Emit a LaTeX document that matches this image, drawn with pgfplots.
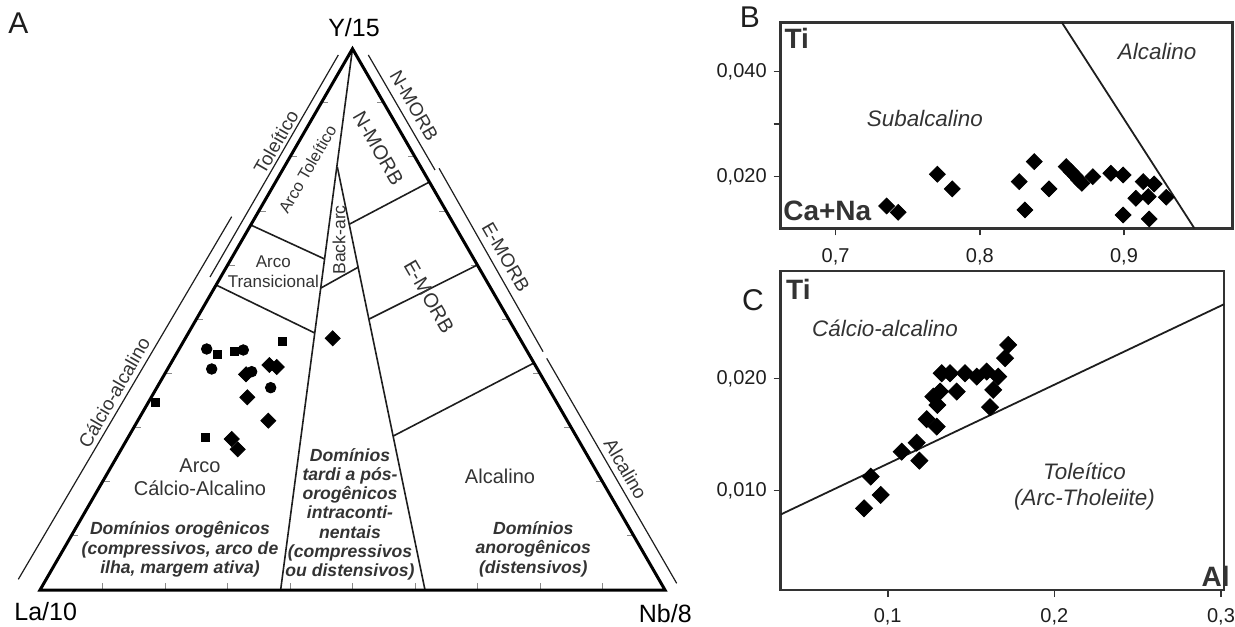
\documentclass[border=0pt]{standalone}
\usepackage{pgfplots}
\pgfplotsset{compat=1.18}
\usepackage{fontspec}
\setmainfont{Liberation Sans}
\definecolor{dk}{HTML}{1E1E1E}
\definecolor{tx}{HTML}{333333}
\definecolor{tk}{HTML}{8A8A8A}
\newcommand{\fs}[2]{\fontsize{#1}{#2}\selectfont}
\begin{document}
\begin{tikzpicture}
\useasboundingbox (0,0) rectangle (617.5pt,313pt);
% ---------------- Panel A : ternary La/10 - Y/15 - Nb/8 ----------------
\begin{axis}[at={(20pt,18pt)}, anchor=south west, scale only axis,
  width=312.5pt, height=270.63pt, xmin=0, xmax=1, ymin=0, ymax=0.8660,
  axis lines=none, clip=false]
% inner ticks
\addplot[tk, line width=0.5pt, unbounded coords=jump] coordinates {
(0.1,0) (0.1,0.0112) (0.1,nan) (0.2,0) (0.2,0.0112) (0.2,nan)
(0.3,0) (0.3,0.0112) (0.3,nan) (0.4,0) (0.4,0.0112) (0.4,nan)
(0.5,0) (0.5,0.0112) (0.5,nan) (0.6,0) (0.6,0.0112) (0.6,nan)
(0.7,0) (0.7,0.0112) (0.7,nan) (0.8,0) (0.8,0.0112) (0.8,nan)
(0.9,0) (0.9,0.0112) (0.9,nan)
(0.05,0.0866) (0.0612,0.0866) (0.05,nan) (0.10,0.1732) (0.1112,0.1732) (0.1,nan)
(0.15,0.2598) (0.1612,0.2598) (0.15,nan) (0.20,0.3464) (0.2112,0.3464) (0.2,nan)
(0.25,0.4330) (0.2612,0.4330) (0.25,nan) (0.30,0.5196) (0.3112,0.5196) (0.3,nan)
(0.35,0.6062) (0.3612,0.6062) (0.35,nan) (0.40,0.6928) (0.4112,0.6928) (0.4,nan)
(0.45,0.7794) (0.4612,0.7794) (0.45,nan)
(0.95,0.0866) (0.9388,0.0866) (0.95,nan) (0.90,0.1732) (0.8888,0.1732) (0.9,nan)
(0.85,0.2598) (0.8388,0.2598) (0.85,nan) (0.80,0.3464) (0.7888,0.3464) (0.8,nan)
(0.75,0.4330) (0.7388,0.4330) (0.75,nan) (0.70,0.5196) (0.6888,0.5196) (0.7,nan)
(0.65,0.6062) (0.6388,0.6062) (0.65,nan) (0.60,0.6928) (0.5888,0.6928) (0.6,nan)
(0.55,0.7794) (0.5388,0.7794)};
% field boundaries
\addplot[dk, line width=0.8pt] coordinates {(0.5,0.866) (0.385,0)};
\addplot[dk, line width=0.8pt] coordinates {(0.4757,0.677) (0.616,0)};
\addplot[dk, line width=0.8pt] coordinates {(0.4495,0.4832) (0.5097,0.5168)};
\addplot[dk, line width=0.8pt] coordinates {(0.3372,0.584) (0.4553,0.5296)};
\addplot[dk, line width=0.8pt] coordinates {(0.2818,0.488) (0.4396,0.4112)};
\addplot[dk, line width=0.8pt] coordinates {(0.4956,0.5856) (0.6231,0.6528)};
\addplot[dk, line width=0.8pt] coordinates {(0.5268,0.4336) (0.6998,0.52)};
\addplot[dk, line width=0.8pt] coordinates {(0.5653,0.2464) (0.7903,0.3632)};
% outer triangle
\addplot[black, line width=1.5pt] coordinates {(0,0) (1,0) (0.5,0.866) (0,0)} -- cycle;
% outer label lines
\addplot[dk, line width=0.6pt] coordinates {(0.4773,0.856) (0.272,0.5008)};
\addplot[dk, line width=0.6pt] coordinates {(0.3067,0.5973) (-0.0347,0.0171)};
\addplot[dk, line width=0.6pt] coordinates {(0.5253,0.856) (0.632,0.672)};
\addplot[dk, line width=0.6pt] coordinates {(0.6385,0.6747) (0.8049,0.3813)};
\addplot[dk, line width=0.6pt] coordinates {(0.8107,0.3707) (1.0187,0.0107)};
% samples
\addplot[only marks, mark=*, mark size=2.65pt, black] coordinates {
(0.2667,0.3856) (0.3253,0.3840) (0.2747,0.3536) (0.3387,0.3493) (0.3691,0.3237)};
\addplot[only marks, mark=square*, mark size=2pt, black] coordinates {
(0.2837,0.3771) (0.3104,0.3813) (0.3877,0.3984) (0.1851,0.3003) (0.2651,0.2437)};
\addplot[only marks, mark=square*, mark size=2.65pt, mark options={rotate=45}, black] coordinates {
(0.4683,0.4027) (0.3669,0.3600) (0.3787,0.3568) (0.3296,0.3451) (0.3317,0.3083)
(0.3653,0.2709) (0.3067,0.2416) (0.3163,0.2251)};
% vertex and panel labels
\node[font=\fs{12.5}{14}] at (axis cs:0.5024,0.9005) {Y/15};
\node[font=\fs{12.5}{14}] at (axis cs:0.0091,-0.0347) {La/10};
\node[font=\fs{12.5}{14}] at (axis cs:1.0005,-0.0373) {Nb/8};
\node[font=\fs{15}{18}, text=dk] at (axis cs:-0.0347,0.9067) {A};
% field labels
\node[font=\fs{8.2}{9.5}, text=tx, rotate=60] at (axis cs:0.4277,0.6731) {Arco Toleítico};
\node[font=\fs{10}{12}, text=tx, rotate=-60] at (axis cs:0.5413,0.7067) {N-MORB};
\node[font=\fs{8.8}{10}, text=tx, rotate=90] at (axis cs:0.4784,0.56) {Back-arc};
\node[font=\fs{8.5}{10}, text=tx, align=center] at (axis cs:0.3733,0.5093) {Arco\\Transicional};
\node[font=\fs{10}{12}, text=tx, rotate=-60] at (axis cs:0.6224,0.4696) {E-MORB};
\node[font=\fs{10}{11.3}, text=tx, align=center] at (axis cs:0.256,0.1808) {Arco\\Cálcio-Alcalino};
\node[font=\fs{10}{12}, text=tx] at (axis cs:0.736,0.1824) {Alcalino};
\node[font=\fs{8.8}{9.6}\bfseries\itshape, text=tx, align=center] at (axis cs:0.224,0.0651)
  {Domínios orogênicos\\(compressivos, arco de\\ilha, margem ativa)};
\node[font=\fs{8.8}{9.6}\bfseries\itshape, text=tx, align=center] at (axis cs:0.496,0.1213)
  {Domínios\\tardi a pós-\\orogênicos\\intraconti-\\nentais\\(compressivos\\ou distensivos)};
\node[font=\fs{8.8}{9.6}\bfseries\itshape, text=tx, align=center] at (axis cs:0.7893,0.0651)
  {Domínios\\anorogênicos\\(distensivos)};
% outer labels
\node[font=\fs{9.5}{11}, text=tx, rotate=60] at (axis cs:0.3775,0.7165) {Toleítico};
\node[font=\fs{9.5}{11}, text=tx, rotate=60] at (axis cs:0.1185,0.3160) {Cálcio-alcalino};
\node[font=\fs{9.5}{11}, text=tx, rotate=-60] at (axis cs:0.5985,0.7752) {N-MORB};
\node[font=\fs{9.5}{11}, text=tx, rotate=-60] at (axis cs:0.7452,0.5331) {E-MORB};
\node[font=\fs{9.5}{11}, text=tx, rotate=-60] at (axis cs:0.9372,0.1939) {Alcalino};
\end{axis}
% ---------------- Panel B ----------------
\begin{axis}[at={(390.35pt,198.85pt)}, anchor=south west, scale only axis,
  width=226pt, height=102.8pt, xmin=0.6619, xmax=0.9754, ymin=0.01017, ymax=0.0493,
  clip=false, scaled ticks=false,
  axis line style={draw=tx, line width=1.25pt},
  tick style={draw=tx, line width=0.8pt}, tick align=outside, major tick length=3.5pt,
  xtick pos=left, ytick pos=left,
  xtick={0.7,0.8,0.9}, xticklabels={{0,7},{0,8},{0,9}},
  ytick={0.02,0.03,0.04}, yticklabels={{0,020},{},{0,040}},
  xticklabel shift=3pt,
  ticklabel style={font=\fs{10}{12}, text=dk}]
\addplot[dk, line width=0.9pt] coordinates {(0.8570,0.0493) (0.9488,0.01017)};
\addplot[only marks, mark=square*, mark size=2.8pt, mark options={rotate=45}, black] coordinates {
(0.7354,0.01442) (0.7434,0.01322) (0.7705,0.02046) (0.7809,0.01766) (0.8273,0.01905)
(0.8313,0.01366) (0.8378,0.02286) (0.8480,0.01766) (0.8599,0.02190) (0.8633,0.02095)
(0.8661,0.02019) (0.8684,0.01937) (0.8708,0.01874) (0.8784,0.02000) (0.8909,0.02065)
(0.8994,0.02032) (0.8994,0.01270) (0.9082,0.01588) (0.9133,0.01905) (0.9168,0.01619)
(0.9209,0.01861) (0.9175,0.01194) (0.9293,0.01608)};
\node[font=\fs{14}{16}\bfseries, text=tx] at (axis cs:0.673,0.04636) {Ti};
\node[font=\fs{14}{16}\bfseries, text=tx] at (axis cs:0.6942,0.01347) {Ca+Na};
\node[font=\fs{11.2}{13}\itshape, text=tx] at (axis cs:0.7619,0.0310) {Subalcalino};
\node[font=\fs{11.2}{13}\itshape, text=tx] at (axis cs:0.923,0.0438) {Alcalino};
\node[font=\fs{15}{18}, text=dk] at (axis cs:0.6406,0.0504) {B};
\end{axis}
% ---------------- Panel C ----------------
\begin{axis}[at={(390.35pt,18pt)}, anchor=south west, scale only axis,
  width=221.65pt, height=159.5pt, xmin=0.0358, xmax=0.3018, ymin=0.00116, ymax=0.02955,
  clip=false, scaled ticks=false,
  axis line style={draw=tx, line width=1.25pt},
  tick style={draw=tx, line width=0.8pt}, tick align=outside, major tick length=3.5pt,
  xtick pos=left, ytick pos=left,
  xtick={0.1,0.2,0.3}, xticklabels={{0,1},{0,2},{0,3}},
  ytick={0.01,0.02}, yticklabels={{0,010},{0,020}},
  xticklabel shift=2pt,
  ticklabel style={font=\fs{10}{12}, text=dk}]
\addplot[dk, line width=0.9pt] coordinates {(0.0358,0.00788) (0.3018,0.02659)};
\addplot[only marks, mark=square*, mark size=3pt, mark options={rotate=45}, black] coordinates {
(0.1723,0.02297) (0.1704,0.02179) (0.1324,0.02045) (0.1374,0.02045) (0.1464,0.02045)
(0.1534,0.02015) (0.1594,0.02060) (0.1663,0.02015) (0.1314,0.01882) (0.1274,0.01837)
(0.1414,0.01882) (0.1633,0.01897) (0.1298,0.01763) (0.1614,0.01743) (0.1234,0.01636)
(0.1294,0.01570) (0.1174,0.01427) (0.1084,0.01347) (0.1190,0.01267) (0.0898,0.01125)
(0.0958,0.00962) (0.0858,0.00843)};
\node[font=\fs{14}{16}\bfseries, text=tx] at (axis cs:0.0464,0.02793) {Ti};
\node[font=\fs{14}{16}\bfseries, text=tx] at (axis cs:0.2968,0.0024) {Al};
\node[font=\fs{11.2}{13}\itshape, text=tx] at (axis cs:0.0984,0.02446) {Cálcio-alcalino};
\node[font=\fs{11.2}{13.3}\itshape, text=tx, align=center] at (axis cs:0.2181,0.01036) {Toleítico\\(Arc-Tholeiite)};
\node[font=\fs{15}{18}, text=dk] at (axis cs:0.0192,0.02698) {C};
\end{axis}
\end{tikzpicture}
\end{document}
